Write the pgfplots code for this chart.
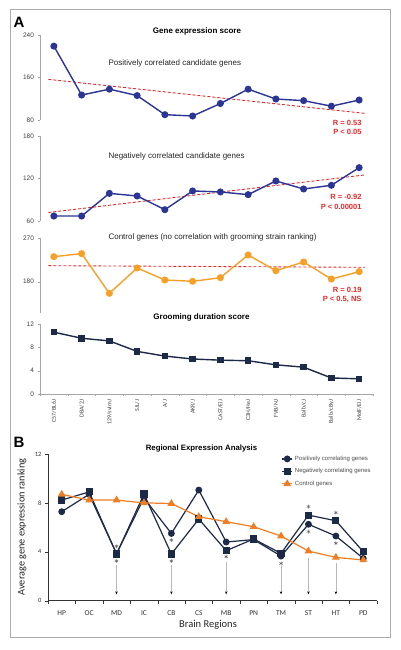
\documentclass[border=0pt]{standalone}
\usepackage{pgfplots}
\pgfplotsset{compat=1.18}
\usepackage{fontspec}
\setmainfont{Liberation Sans}
\newfontfamily\carlito{Carlito}
\usetikzlibrary{arrows.meta}

\definecolor{pblue}{RGB}{43,53,150}
\definecolor{tred}{RGB}{232,40,40}
\definecolor{corange}{RGB}{246,160,40}
\definecolor{navy}{RGB}{28,42,72}
\definecolor{borange}{RGB}{240,125,35}
\definecolor{axgray}{RGB}{165,165,165}

\pgfplotsset{
 Astyle/.style={scale only axis, width=333pt, xmin=-0.5, xmax=11.5, anchor=south west,
   axis y line*=left, y axis line style={axgray, line width=0.6pt},
   ytick style={axgray}, tick align=outside, major tick length=2.5pt,
   yticklabel style={font=\fontsize{6.5}{7}\selectfont, text=black!75},
   /pgf/number format/assume math mode=true, clip=false},
 trend/.style={tred, line width=0.9pt, dash pattern=on 3pt off 2pt},
}

\begin{document}
\begin{tikzpicture}
\fill[white] (0,0) rectangle (400pt,650pt);
\useasboundingbox (0,0) rectangle (400pt,650pt);
\draw[gray!65, line width=1pt] (10pt,12pt) rectangle (390pt,640pt);

% ---------- A1
\begin{axis}[Astyle, at={(40pt,530pt)}, height=85pt, ymin=80, ymax=240, ytick={80,160,240},
  axis x line*=bottom, x axis line style={draw=none}, xtick=\empty]
\addplot[trend] coordinates {(-0.2,156.5) (11.2,92.5)};
\addplot[pblue, line width=1.4pt, mark=*, mark size=2.8pt] coordinates {
(0,219) (1,127) (2,138) (3,126) (4,90) (5,87.5) (6,111) (7,138) (8,119.5) (9,116.4) (10,106) (11,117.6)};
\end{axis}

% ---------- A2
\begin{axis}[Astyle, at={(40pt,429pt)}, height=85pt, ymin=60, ymax=180, ytick={60,120,180},
  axis x line*=bottom, x axis line style={draw=none}, xtick=\empty]
\addplot[trend] coordinates {(-0.2,72) (11.2,125)};
\addplot[pblue, line width=1.4pt, mark=*, mark size=2.8pt] coordinates {
(0,67) (1,67) (2,99) (3,95.3) (4,76) (5,102.4) (6,101) (7,97.2) (8,116.5) (9,105.2) (10,110.4) (11,135.3)};
\end{axis}

% ---------- A3
\begin{axis}[Astyle, at={(40pt,337pt)}, height=74.7pt, ymin=115, ymax=270, ytick={180,270},
  axis x line*=bottom, x axis line style={draw=none}, xtick=\empty]
\addplot[trend] coordinates {(-0.2,213.2) (11.2,209.8)};
\addplot[corange, line width=1.4pt, mark=*, mark size=2.8pt] coordinates {
(0,231.9) (1,238.2) (2,155.8) (3,208.4) (4,183.5) (5,180.7) (6,188.3) (7,235.4) (8,202.8) (9,220.8) (10,185.5) (11,200.8)};
\end{axis}

% ---------- A4
\begin{axis}[Astyle, at={(40pt,256pt)}, height=70pt, ymin=0, ymax=12, ytick={0,4,8,12},
  axis x line*=bottom, x axis line style={axgray, line width=0.6pt},
  xtick={0,...,11},
  xticklabels={C57/BL6J,DBA/2J,129/svImJ,SJL/J,A/J,AKR/J,CAST/EiJ,C3H/HeJ,FVB/NJ,Balb/cJ,Balb/cByJ,MolF/EiJ},
  xticklabel style={rotate=90, anchor=east, font=\carlito\fontsize{6}{7}\selectfont, text=black!75},
  major x tick style={draw=none},
  minor xtick={-0.5,0.5,...,11.5}, minor x tick style={axgray}, minor tick length=2pt]
\addplot[navy, line width=1.4pt, mark=square*, mark size=2.6pt] coordinates {
(0,10.6) (1,9.55) (2,9.1) (3,7.3) (4,6.5) (5,6.0) (6,5.8) (7,5.7) (8,5.0) (9,4.6) (10,2.75) (11,2.6)};
\end{axis}

% ---------- B
\begin{axis}[scale only axis, anchor=south west, at={(48pt,49.3pt)}, width=329pt, height=146.7pt,
  xmin=-0.5, xmax=11.5, ymin=0, ymax=12, clip=false,
  axis x line*=bottom, axis y line*=left, axis line style={black!80, line width=0.6pt},
  ytick={0,4,8,12}, tick align=outside, major tick length=3pt, tick style={black!80},
  yticklabel style={font=\carlito\fontsize{6.5}{7}\selectfont, text=black!80},
  /pgf/number format/assume math mode=true,
  xtick={0,...,11}, xticklabels={HP,OC,MD,IC,CB,CS,MB,PN,TM,ST,HT,PD},
  xticklabel style={font=\carlito\fontsize{7.5}{8}\selectfont, text=black!80, yshift=-3pt},
  major x tick style={draw=none},
  minor xtick={-0.5,0.5,...,11.5}, minor tick length=3pt,
  legend style={at={(0.70,1.015)}, anchor=north west, draw=none, fill=none,
    font=\fontsize{6}{7}\selectfont, text=black!70, row sep=2.6pt},
  legend cell align=left,
  legend image code/.code={\draw[mark repeat=2,mark phase=2,#1] plot coordinates {(0cm,0cm) (0.18cm,0cm) (0.36cm,0cm)};}]
\addplot[navy, line width=1.2pt, mark=*, mark size=2.8pt] coordinates {
(0,7.28) (1,8.7) (2,3.85) (3,8.4) (4,5.5) (5,9.05) (6,4.8) (7,5.0) (8,3.65) (9,6.25) (10,5.29) (11,3.46)};
\addlegendentry{Positively correlating genes}
\addplot[navy, line width=1.2pt, mark=square*, mark size=3pt] coordinates {
(0,8.23) (1,8.9) (2,3.82) (3,8.72) (4,3.82) (5,6.68) (6,4.09) (7,5.05) (8,3.87) (9,7.0) (10,6.54) (11,4.0)};
\addlegendentry{Negatively correlating genes}
\addplot[borange, line width=1.2pt, mark=triangle*, mark size=3.3pt] coordinates {
(0,8.7) (1,8.23) (2,8.23) (3,8.0) (4,7.95) (5,6.87) (6,6.46) (7,6.05) (8,5.29) (9,4.06) (10,3.54) (11,3.33)};
\addlegendentry{Control genes}
% significance asterisks
\addplot[forget plot, only marks, mark=asterisk, mark size=2pt, gray!80!black, line width=0.45pt] coordinates {
(2,4.45) (2,3.25) (4,4.96) (4,3.25) (6,3.6) (8,3.05) (9,7.7) (9,5.65) (10,7.2) (10,4.7)};
% arrows
\addplot[forget plot, gray!55, line width=0.6pt, -{Stealth[length=3pt,width=2.4pt,color=black]}] coordinates {(2,2.9) (2,0.52)};
\addplot[forget plot, gray!55, line width=0.6pt, -{Stealth[length=3pt,width=2.4pt,color=black]}] coordinates {(4,2.9) (4,0.52)};
\addplot[forget plot, gray!55, line width=0.6pt, -{Stealth[length=3pt,width=2.4pt,color=black]}] coordinates {(6,3.2) (6,0.52)};
\addplot[forget plot, gray!55, line width=0.6pt, -{Stealth[length=3pt,width=2.4pt,color=black]}] coordinates {(8,2.8) (8,0.52)};
\addplot[forget plot, gray!55, line width=0.6pt, -{Stealth[length=3pt,width=2.4pt,color=black]}] coordinates {(9,3.5) (9,0.52)};
\addplot[forget plot, gray!55, line width=0.6pt, -{Stealth[length=3pt,width=2.4pt,color=black]}] coordinates {(10,3.05) (10,0.52)};
\end{axis}

% ---------- texts
\node[font=\bfseries\fontsize{15}{16}\selectfont] at (19pt,628pt) {A};
\node[font=\bfseries\fontsize{15}{16}\selectfont] at (19pt,208pt) {B};
\node[font=\bfseries\fontsize{8}{9}\selectfont] at (197pt,618.3pt) {Gene expression score};
\node[anchor=west, font=\fontsize{8}{9}\selectfont, text=black!85] at (105pt,587pt) {Positively correlated candidate genes};
\node[anchor=west, font=\fontsize{8}{9}\selectfont, text=black!85] at (105pt,493.3pt) {Negatively correlated candidate genes};
\node[anchor=west, font=\fontsize{8}{9}\selectfont, text=black!85] at (105pt,413pt) {Control genes (no correlation with grooming strain ranking)};
\node[font=\bfseries\fontsize{8}{9}\selectfont] at (201.5pt,332.7pt) {Grooming duration score};
\node[anchor=east, font=\bfseries\fontsize{7.5}{8}\selectfont, text=tred] at (365pt,527.3pt) {R = 0.53};
\node[anchor=east, font=\bfseries\fontsize{7.5}{8}\selectfont, text=tred] at (365pt,517.7pt) {P < 0.05};
\node[anchor=east, font=\bfseries\fontsize{7.5}{8}\selectfont, text=tred] at (365pt,452.7pt) {R = -0.92};
\node[anchor=east, font=\bfseries\fontsize{7.5}{8}\selectfont, text=tred] at (365pt,443.3pt) {P < 0.00001};
\node[anchor=east, font=\bfseries\fontsize{7.5}{8}\selectfont, text=tred] at (365pt,360pt) {R = 0.19};
\node[anchor=east, font=\bfseries\fontsize{7.5}{8}\selectfont, text=tred] at (365pt,350.3pt) {P < 0.5, NS};
\node[font=\bfseries\fontsize{7.8}{9}\selectfont] at (201.5pt,201pt) {Regional Expression Analysis};
\node[rotate=90, font=\carlito\fontsize{10.3}{11}\selectfont, text=black!85] at (22pt,123pt) {Average gene expression ranking};
\node[font=\carlito\fontsize{10.5}{11}\selectfont, text=black!85] at (208pt,25pt) {Brain Regions};
\end{tikzpicture}
\end{document}
